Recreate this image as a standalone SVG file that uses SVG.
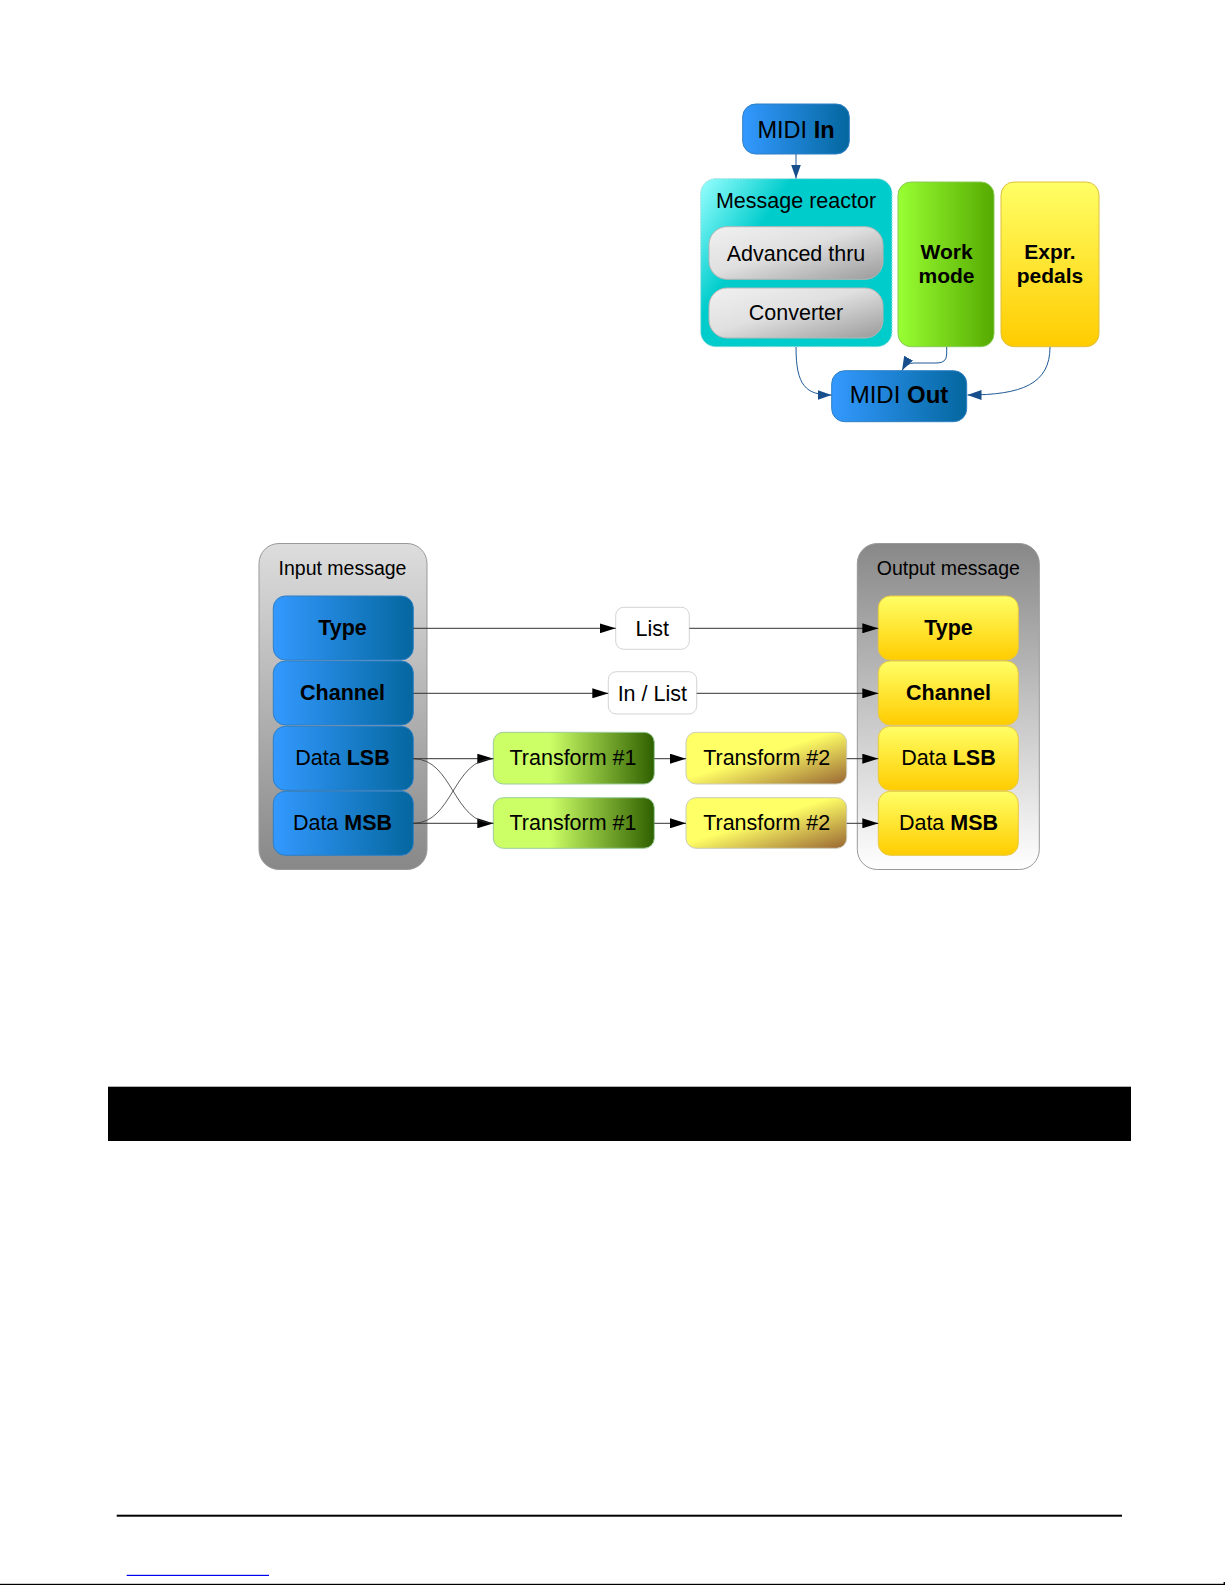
<svg xmlns="http://www.w3.org/2000/svg" width="1225" height="1585" viewBox="0 0 1225 1585">
<style>
text{font-family:"Liberation Sans",Arial,sans-serif;fill:#000;text-anchor:middle}
.t24{font-size:23.5px}
.t21{font-size:21.5px}
.b21{font-size:21px;font-weight:bold}
.t19{font-size:19.5px}
.b{font-weight:bold}
.bl{stroke:#2f7fc4;stroke-width:1}
.cb{fill:none;stroke:#1f5a96;stroke-width:1}
.ck{fill:none;stroke:#333;stroke-width:1}
.cx{fill:none;stroke:#333;stroke-width:0.8}
</style>
<defs>
<linearGradient id="gBlue" x1="0" y1="0" x2="1" y2="0"><stop offset="0" stop-color="#3399ff"/><stop offset="1" stop-color="#04679f"/></linearGradient>
<linearGradient id="gCyan" x1="0" y1="0" x2="0.6" y2="0.35"><stop offset="0" stop-color="#99ffff"/><stop offset="0.6" stop-color="#00cccc"/><stop offset="1" stop-color="#00cccc"/></linearGradient>
<linearGradient id="gGray" x1="0" y1="0" x2="1" y2="1"><stop offset="0" stop-color="#f0f0f0"/><stop offset="0.45" stop-color="#e0e0e0"/><stop offset="1" stop-color="#9a9a9a"/></linearGradient>
<linearGradient id="gGreen" x1="0" y1="0" x2="1" y2="0"><stop offset="0" stop-color="#99ff33"/><stop offset="1" stop-color="#55aa00"/></linearGradient>
<linearGradient id="gYel" x1="0" y1="0" x2="0" y2="1"><stop offset="0" stop-color="#ffff66"/><stop offset="1" stop-color="#ffcc00"/></linearGradient>
<linearGradient id="gIn" x1="0" y1="0" x2="0" y2="1"><stop offset="0" stop-color="#dddddd"/><stop offset="1" stop-color="#888888"/></linearGradient>
<linearGradient id="gOut" x1="0" y1="0" x2="0" y2="1"><stop offset="0" stop-color="#888888"/><stop offset="1" stop-color="#ffffff"/></linearGradient>
<linearGradient id="gT1" x1="0" y1="0" x2="1" y2="0"><stop offset="0" stop-color="#ccff66"/><stop offset="0.35" stop-color="#ccff66"/><stop offset="1" stop-color="#2f6000"/></linearGradient>
<linearGradient id="gT2" x1="0" y1="0" x2="1" y2="1"><stop offset="0" stop-color="#ffff66"/><stop offset="0.45" stop-color="#ffff66"/><stop offset="1" stop-color="#996633"/></linearGradient>
<marker id="mb" markerWidth="14" markerHeight="10" refX="14" refY="5" orient="auto" markerUnits="userSpaceOnUse"><path d="M0,0 L14,5 L0,10 Z" fill="#174e8c"/></marker>
<marker id="mk" markerWidth="16" markerHeight="10" refX="16" refY="5" orient="auto" markerUnits="userSpaceOnUse"><path d="M0,0 L16,5 L0,10 Z" fill="#000"/></marker>
</defs>
<rect width="1225" height="1585" fill="#fff"/>

<!-- top diagram nodes -->
<g id="midi-in"><rect x="742.7" y="104" width="106.6" height="50" rx="13" fill="url(#gBlue)" class="bl"/><text class="t24" x="796" y="137.7">MIDI <tspan class="b">In</tspan></text></g>
<g id="message-reactor"><rect x="700.7" y="178.7" width="191.3" height="168" rx="15" fill="url(#gCyan)" stroke="#9adcdc" stroke-width="1" stroke-dasharray="2 1"/><text class="t21" x="796" y="208">Message reactor</text></g>
<g id="advanced-thru"><rect x="709" y="226.7" width="174" height="52.6" rx="18" fill="url(#gGray)" stroke="#b5b5b5"/><text class="t21" x="796" y="260.7">Advanced thru</text></g>
<g id="converter"><rect x="709" y="288" width="174" height="50" rx="18" fill="url(#gGray)" stroke="#b5b5b5"/><text class="t21" x="796" y="320">Converter</text></g>
<g id="work-mode"><rect x="898" y="182" width="96" height="164.7" rx="13" fill="url(#gGreen)" stroke="#88cc55"/><text class="b21" x="946.5" y="259.3">Work</text><text class="b21" x="946.5" y="283.3">mode</text></g>
<g id="expr-pedals"><rect x="1001" y="182" width="98" height="164.7" rx="13" fill="url(#gYel)" stroke="#e0c040"/><text class="b21" x="1050" y="259.3">Expr.</text><text class="b21" x="1050" y="283.3">pedals</text></g>
<g id="midi-out"><rect x="831.7" y="370.7" width="135" height="51" rx="13" fill="url(#gBlue)" class="bl"/><text class="t24" x="899" y="403.3" style="font-size:24px">MIDI <tspan class="b">Out</tspan></text></g>

<!-- bottom diagram nodes -->
<g id="input-message"><rect x="259" y="543.5" width="168" height="326" rx="20" fill="url(#gIn)" stroke="#999"/><text class="t19" x="342.5" y="575" fill="#111">Input message</text></g>
<g id="in-type"><rect x="273.3" y="596" width="140" height="64" rx="12" fill="url(#gBlue)" class="bl"/><text class="t21 b" x="342.5" y="635">Type</text></g>
<g id="in-channel"><rect x="273.3" y="661" width="140" height="64" rx="12" fill="url(#gBlue)" class="bl"/><text class="t21 b" x="342.5" y="700">Channel</text></g>
<g id="in-lsb"><rect x="273.3" y="726.3" width="140" height="64" rx="12" fill="url(#gBlue)" class="bl"/><text class="t21" x="342.5" y="765">Data <tspan class="b">LSB</tspan></text></g>
<g id="in-msb"><rect x="273.3" y="791.3" width="140" height="64" rx="12" fill="url(#gBlue)" class="bl"/><text class="t21" x="342.5" y="830">Data <tspan class="b">MSB</tspan></text></g>

<g id="list"><rect x="615.7" y="607.3" width="73.6" height="42" rx="8" fill="#fff" stroke="#c8c8c8" stroke-width="0.8"/><text class="t21" x="652.3" y="636">List</text></g>
<g id="in-list"><rect x="608.3" y="671.7" width="88.4" height="42.3" rx="8" fill="#fff" stroke="#c8c8c8" stroke-width="0.8"/><text class="t21" x="652.3" y="700.7">In / List</text></g>

<g id="transform1-lsb"><rect x="493.3" y="732.3" width="161" height="51.7" rx="10" fill="url(#gT1)" stroke="#9c9"/><text class="t21" x="573" y="765">Transform #1</text></g>
<g id="transform1-msb"><rect x="493.3" y="797.7" width="161" height="50.6" rx="10" fill="url(#gT1)" stroke="#9c9"/><text class="t21" x="573" y="830">Transform #1</text></g>
<g id="transform2-lsb"><rect x="686" y="732.3" width="160.7" height="51.7" rx="10" fill="url(#gT2)" stroke="#ccb"/><text class="t21" x="766.7" y="765">Transform #2</text></g>
<g id="transform2-msb"><rect x="686" y="797.7" width="160.7" height="50.6" rx="10" fill="url(#gT2)" stroke="#ccb"/><text class="t21" x="766.7" y="830">Transform #2</text></g>

<g id="output-message"><rect x="857.3" y="543.5" width="182" height="326" rx="20" fill="url(#gOut)" stroke="#999"/><text class="t19" x="948.3" y="575" fill="#222">Output message</text></g>
<g id="out-type"><rect x="878.3" y="596" width="140" height="64" rx="12" fill="url(#gYel)" stroke="#e8c840"/><text class="t21 b" x="948.5" y="635">Type</text></g>
<g id="out-channel"><rect x="878.3" y="661" width="140" height="64" rx="12" fill="url(#gYel)" stroke="#e8c840"/><text class="t21 b" x="948.5" y="700">Channel</text></g>
<g id="out-lsb"><rect x="878.3" y="726.3" width="140" height="64" rx="12" fill="url(#gYel)" stroke="#e8c840"/><text class="t21" x="948.5" y="765">Data <tspan class="b">LSB</tspan></text></g>
<g id="out-msb"><rect x="878.3" y="791.3" width="140" height="64" rx="12" fill="url(#gYel)" stroke="#e8c840"/><text class="t21" x="948.5" y="830">Data <tspan class="b">MSB</tspan></text></g>

<!-- connectors -->
<g id="connectors">
<path class="cb" d="M796,154 L796,178.5" marker-end="url(#mb)"/>
<path class="cb" d="M796,347 C796,386 806,395 831.5,395" marker-end="url(#mb)"/>
<path class="cb" d="M946.7,347 L946.7,354 Q946.7,363 937,363 L914,363 Q906,363 902,370.5" marker-end="url(#mb)"/>
<path class="cb" d="M1050,347 C1050,384 1022,395 967.5,395" marker-end="url(#mb)"/>

<path class="ck" d="M413.3,628.3 L615.7,628.3" marker-end="url(#mk)"/>
<path class="ck" d="M689.3,628.3 L878.3,628.3" marker-end="url(#mk)"/>
<path class="ck" d="M413.3,693.3 L608.3,693.3" marker-end="url(#mk)"/>
<path class="ck" d="M696.7,693.3 L878.3,693.3" marker-end="url(#mk)"/>
<path class="ck" d="M413.3,758.7 L493.3,758.7" marker-end="url(#mk)"/>
<path class="ck" d="M413.3,823.3 L493.3,823.3" marker-end="url(#mk)"/>
<path class="cx" d="M413.3,758.7 C453,758.7 453,823.3 493.3,823.3"/>
<path class="cx" d="M413.3,823.3 C453,823.3 453,758.7 493.3,758.7"/>
<path class="ck" d="M654.3,758.7 L686,758.7" marker-end="url(#mk)"/>
<path class="ck" d="M654.3,823.3 L686,823.3" marker-end="url(#mk)"/>
<path class="ck" d="M846.7,758.7 L878.3,758.7" marker-end="url(#mk)"/>
<path class="ck" d="M846.7,823.3 L878.3,823.3" marker-end="url(#mk)"/>
</g>

<!-- page elements -->
<rect x="108" y="1086.7" width="1023" height="54.3" fill="#000"/>
<rect x="116.7" y="1514.7" width="1005.3" height="2" fill="#000"/>
<rect x="126.7" y="1574.8" width="142.3" height="1.2" fill="#0000ee"/>
<rect x="0" y="1583.8" width="1225" height="1.2" fill="#000"/>
<rect x="1223.6" y="1582" width="1.4" height="3" fill="#000"/>
</svg>
